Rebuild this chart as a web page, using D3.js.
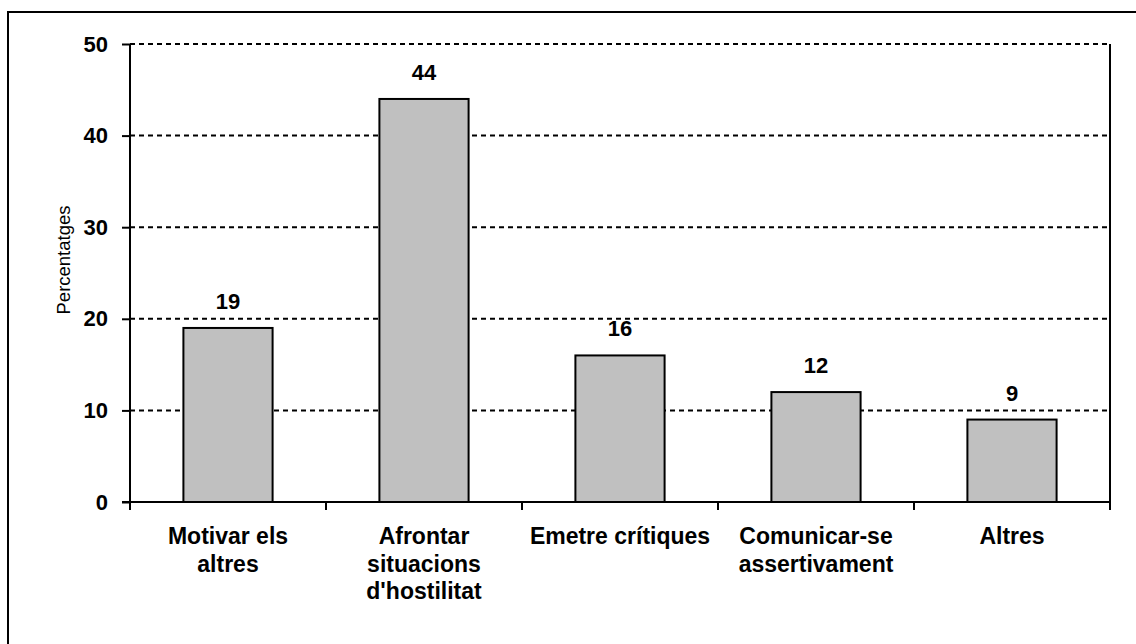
<!DOCTYPE html>
<html>
<head>
<meta charset="utf-8">
<script src="https://cdn.jsdelivr.net/npm/d3@7"></script>
<style>
  body { margin: 0; background: #fff; }
  text { font-family: Arial, "Liberation Sans", sans-serif; }
</style>
</head>
<body>
<script>
"use strict";

const categories = [
  ['Motivar els', 'altres'],
  ['Afrontar', 'situacions', "d'hostilitat"],
  ['Emetre crítiques'],
  ['Comunicar-se', 'assertivament'],
  ['Altres'],
]
const values = [19, 44, 16, 12, 9]
const yTicks = [0, 10, 20, 30, 40, 50]
const yLabel = 'Percentatges'

const W = 1136, H = 644
const m = { left: 130, right: 1110, top: 44, bottom: 502 }

const svg = d3.select('body').append('svg')
  .attr('width', W)
  .attr('height', H)

// outer chart border (right/bottom fall off the canvas)
svg.append('rect')
  .attr('x', 8).attr('y', 12)
  .attr('width', W + 20).attr('height', H + 20)
  .attr('fill', 'none')
  .attr('stroke', '#000')
  .attr('stroke-width', 2)

const x = d3.scaleBand()
  .domain(d3.range(categories.length))
  .range([m.left, m.right])
  .paddingInner(0.545)
  .paddingOuter(0.2725)

const y = d3.scaleLinear()
  .domain([0, 50])
  .range([m.bottom, m.top])

// dashed gridlines
svg.append('g')
  .selectAll('line')
  .data(yTicks.filter(t => t > 0))
  .join('line')
    .attr('x1', m.left).attr('x2', m.right)
    .attr('y1', d => y(d)).attr('y2', d => y(d))
    .attr('stroke', '#000')
    .attr('stroke-width', 2)
    .attr('stroke-dasharray', '5,4')

// right border of plot
svg.append('line')
  .attr('x1', m.right).attr('x2', m.right)
  .attr('y1', m.top).attr('y2', m.bottom)
  .attr('stroke', '#000')
  .attr('stroke-width', 2)

// bars
svg.append('g')
  .selectAll('rect')
  .data(values)
  .join('rect')
    .attr('x', (d, i) => x(i))
    .attr('y', d => y(d))
    .attr('width', x.bandwidth())
    .attr('height', d => y(0) - y(d))
    .attr('fill', '#c0c0c0')
    .attr('stroke', '#000')
    .attr('stroke-width', 2)

// value labels
svg.append('g')
  .selectAll('text')
  .data(values)
  .join('text')
    .attr('x', (d, i) => x(i) + x.bandwidth() / 2)
    .attr('y', d => y(d) - 19)
    .attr('text-anchor', 'middle')
    .attr('font-size', 22)
    .attr('font-weight', 'bold')
    .text(d => d)

// y axis
const yAxis = svg.append('g')
  .attr('transform', `translate(${m.left},0)`)
  .call(d3.axisLeft(y).tickValues(yTicks).tickSize(8).tickPadding(14))
yAxis.select('.domain').attr('stroke-width', 2).attr('d', `M0,${m.top}V${m.bottom}`)
yAxis.selectAll('.tick line').attr('stroke-width', 2)
yAxis.selectAll('.tick text')
  .attr('font-size', 22)
  .attr('font-weight', 'bold')
  .attr('font-family', 'Arial, "Liberation Sans", sans-serif')
  .attr('fill', '#000')

// x axis line + ticks at band edges
const edges = d3.range(categories.length + 1).map(i => m.left + i * (m.right - m.left) / categories.length)
svg.append('line')
  .attr('x1', m.left - 8).attr('x2', m.right)
  .attr('y1', m.bottom).attr('y2', m.bottom)
  .attr('stroke', '#000')
  .attr('stroke-width', 2)
svg.append('g')
  .selectAll('line')
  .data(edges)
  .join('line')
    .attr('x1', d => d).attr('x2', d => d)
    .attr('y1', m.bottom).attr('y2', m.bottom + 8)
    .attr('stroke', '#000')
    .attr('stroke-width', 2)

// category labels
svg.append('g')
  .selectAll('text')
  .data(categories)
  .join('text')
    .attr('x', (d, i) => x(i) + x.bandwidth() / 2)
    .attr('y', 544)
    .attr('text-anchor', 'middle')
    .attr('font-size', 23)
    .attr('font-weight', 'bold')
    .selectAll('tspan')
    .data(d => d)
    .join('tspan')
      .attr('x', function () { return this.parentNode.getAttribute('x') })
      .attr('dy', (d, i) => i === 0 ? 0 : 27.5)
      .text(d => d)

// y label
svg.append('text')
  .attr('transform', 'translate(70,260) rotate(-90)')
  .attr('text-anchor', 'middle')
  .attr('font-size', 18.5)
  .text(yLabel)
</script>
</body>
</html>
